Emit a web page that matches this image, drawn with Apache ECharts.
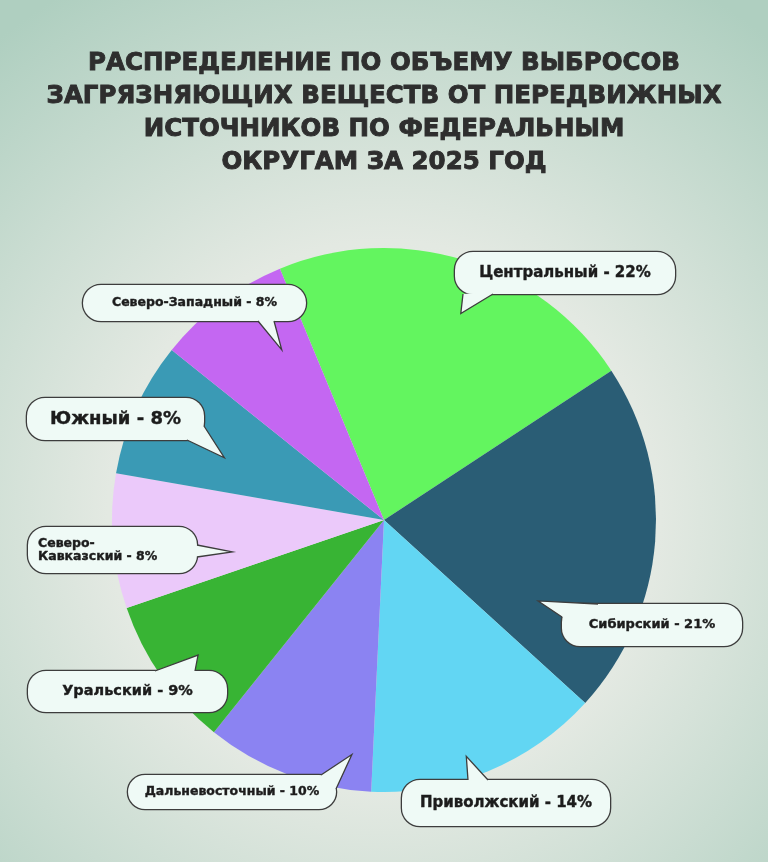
<!DOCTYPE html>
<html>
<head>
    <meta charset="utf-8">
    <title>ECharts</title>
    <script src="https://cdn.jsdelivr.net/npm/echarts@6/dist/echarts.min.js"></script>
    <style>
        html, body { margin: 0; padding: 0; }
        #main { width: 768px; height: 862px; }
    </style>
</head>
<body>
    <div id="main"></div>
    <script type="text/javascript">
        // data
        var titleLines = [
            'РАСПРЕДЕЛЕНИЕ ПО ОБЪЕМУ ВЫБРОСОВ',
            'ЗАГРЯЗНЯЮЩИХ ВЕЩЕСТВ ОТ ПЕРЕДВИЖНЫХ',
            'ИСТОЧНИКОВ ПО ФЕДЕРАЛЬНЫМ',
            'ОКРУГАМ ЗА 2025 ГОД'
        ];
        var districts = ['Центральный', 'Сибирский', 'Приволжский', 'Дальневосточный',
                         'Уральский', 'Северо-Кавказский', 'Южный', 'Северо-Западный'];
        var shares = [22, 21, 14, 10, 9, 8, 8, 8];
        var colors = ['#63f55f', '#2a5d75', '#62d6f3', '#8b83f2',
                      '#38b434', '#ebc9fa', '#3a9ab5', '#c467f2'];

        // pie geometry
        var CX = 384, CY = 520, R = 272, START = 112.5;

        // bubble boxes: left, top, width, height + font size
        // tail: two base points on the box edge, tip as offset from slice mid angle + radius fraction
        var bubbles = [
            { box: [455, 252, 220, 42], fs: 15,   b1: [463, 294], b2: [493, 294], off: 3.3,  k: 0.81 },
            { box: [562, 604, 180, 42], fs: 13,   b1: [562, 617], b2: [598, 604], off: 23.2, k: 0.64 },
            { box: [402, 780, 208, 46], fs: 15,   b1: [468, 780], b2: [488, 780], off: 3.3,  k: 0.92 },
            { box: [128, 775, 208, 34], fs: 12.5, b1: [321, 775], b2: [336, 789], off: -12.9, k: 0.87 },
            { box: [28, 671, 199, 41],  fs: 14.5, b1: [155, 671], b2: [195, 671], off: -0.9, k: 0.845 },
            { box: [28, 527, 169, 46],  fs: 12.5, b1: [197, 545], b2: [197, 557], off: -7.4, k: 0.57, left: true, wrap: true },
            { box: [27, 398, 177, 42],  fs: 18,   b1: [187, 440], b2: [204, 426], off: -3.0, k: 0.63 },
            { box: [83, 285, 223, 36],  fs: 12.5, b1: [258, 321], b2: [274, 321], off: 5.9,  k: 0.73 }
        ];

        var bubbleFill = '#effaf6';
        var bubbleLine = '#3d3d3d';
        var fontFam = '"DejaVu Sans", "Noto Sans", sans-serif';

        var total = shares.reduce(function (a, b) { return a + b; }, 0);
        var pieData = [];
        for (var i = 0; i < districts.length; i++) {
            var bb = bubbles[i];
            pieData.push({
                name: districts[i],
                value: shares[i],
                itemStyle: { color: colors[i] },
                label: {
                    fontSize: bb.fs,
                    width: bb.left ? bb.box[2] - 10 : bb.box[2],
                    height: bb.box[3],
                    lineHeight: bb.wrap ? 13 : bb.box[3],
                    padding: bb.left ? [0, 0, 0, 10] : 0
                }
            });
        }

        // tails
        var tails = [];
        var acc = 0;
        for (var j = 0; j < shares.length; j++) {
            var b = bubbles[j];
            var mid = -(START - 90) + (acc + shares[j] / 2) / total * 360;
            acc += shares[j];
            var a = (mid + b.off) * Math.PI / 180;
            var tip = [CX + b.k * R * Math.sin(a), CY - b.k * R * Math.cos(a)];
            var bc = [b.box[0] + b.box[2] / 2, b.box[1] + b.box[3] / 2];
            var m = [(b.b1[0] + b.b2[0]) / 2, (b.b1[1] + b.b2[1]) / 2];
            var dx = bc[0] - m[0], dy = bc[1] - m[1], dl = Math.sqrt(dx * dx + dy * dy);
            var inner = [m[0] + dx / dl * 6, m[1] + dy / dl * 6];
            tails.push({
                type: 'polygon', z: 100,
                shape: { points: [b.b1, tip, b.b2, inner] },
                style: { fill: bubbleFill, stroke: null }
            });
            tails.push({
                type: 'polyline', z: 101,
                shape: { points: [b.b1, tip, b.b2] },
                style: { stroke: bubbleLine, lineWidth: 1.3, fill: null }
            });
        }

        var chart = echarts.init(document.getElementById('main'));
        chart.setOption({
            animation: false,
            backgroundColor: {
                type: 'radial', x: 0.5, y: 0.6, r: 0.8,
                colorStops: [
                    { offset: 0, color: '#eff0ea' },
                    { offset: 0.45, color: '#e3e9e2' },
                    { offset: 1, color: '#afcfc0' }
                ]
            },
            title: {
                text: titleLines.join('\n'),
                left: 'center',
                top: 42,
                textStyle: {
                    fontFamily: fontFam,
                    fontSize: 24.5,
                    fontWeight: 'bold',
                    lineHeight: 33,
                    color: '#2e2e2e',
                    textBorderColor: '#2e2e2e',
                    textBorderWidth: 0.9,
                    align: 'center'
                }
            },
            graphic: tails,
            series: [{
                type: 'pie',
                center: [CX, CY],
                radius: R,
                startAngle: START,
                clockwise: true,
                silent: true,
                data: pieData,
                itemStyle: { borderWidth: 0 },
                labelLine: { show: false },
                label: {
                    show: true,
                    position: 'outside',
                    fontFamily: fontFam,
                    fontWeight: 'bold',
                    color: '#1c1c1c',
                    textBorderColor: '#1c1c1c',
                    textBorderWidth: 0.4,
                    backgroundColor: bubbleFill,
                    borderColor: bubbleLine,
                    borderWidth: 1.3,
                    borderRadius: 18,
                    formatter: function (p) {
                        var n = p.name;
                        if (bubbles[p.dataIndex].wrap) n = n.replace('-', '-\n');
                        return n + ' - ' + p.value + '%';
                    }
                },
                labelLayout: function (p) {
                    var b = bubbles[p.dataIndex];
                    if (b.left) {
                        return { x: b.box[0], y: b.box[1] + b.box[3] / 2, align: 'left', verticalAlign: 'middle' };
                    }
                    return { x: b.box[0] + b.box[2] / 2, y: b.box[1] + b.box[3] / 2, align: 'center', verticalAlign: 'middle' };
                }
            }]
        });
    </script>
</body>
</html>
